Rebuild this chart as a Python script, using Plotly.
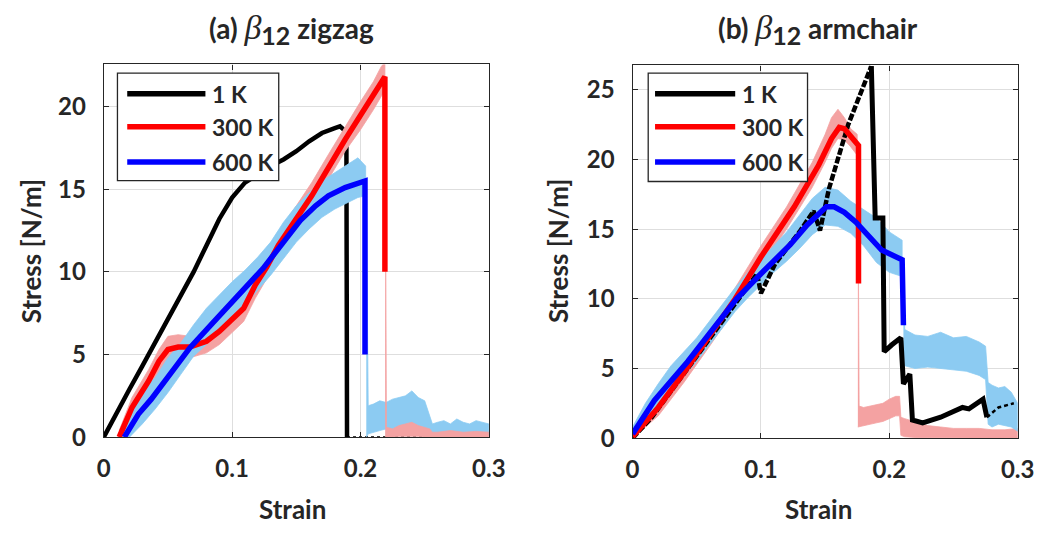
import plotly.graph_objects as go

W, H = 1064, 538

# ---------------- data: (a) beta12 zigzag ----------------
a_k1_strain = [0.0, 0.010, 0.020, 0.030, 0.040, 0.050, 0.060, 0.070, 0.080, 0.090, 0.100, 0.110, 0.120, 0.130,
               0.140, 0.150, 0.160, 0.170, 0.180, 0.184, 0.187, 0.189, 0.1895]
a_k1_stress = [0.0, 1.5, 2.9, 4.3, 5.7, 7.1, 8.5, 10.0, 11.6, 13.2, 14.5, 15.4, 15.9, 16.4,
               16.8, 17.3, 17.9, 18.4, 18.7, 18.8, 18.6, 18.5, 0.0]
a_k1_tail_strain = [0.1895, 0.30]
a_k1_tail_stress = [0.0, 0.0]

a_k300_strain = [0.012, 0.022, 0.035, 0.043, 0.050, 0.058, 0.067, 0.080, 0.090, 0.098, 0.109, 0.118, 0.127, 0.136, 0.162, 0.188, 0.219, 0.219]
a_k300_stress = [0.0, 1.8, 3.4, 4.6, 5.3, 5.45, 5.45, 5.8, 6.4, 7.0, 7.8, 9.2, 10.3, 11.6, 14.6, 18.0, 21.8, 10.0]

a_k600_strain = [0.016, 0.027, 0.037, 0.048, 0.057, 0.067, 0.086, 0.103, 0.124, 0.140, 0.153, 0.165, 0.175, 0.188, 0.2035, 0.2035]
a_k600_stress = [0.0, 1.4, 2.3, 3.4, 4.4, 5.4, 7.0, 8.4, 10.2, 11.8, 13.1, 14.0, 14.6, 15.1, 15.5, 5.0]

# raw (noisy) data envelopes, (a)
a_raw300_strain = [0.012, 0.022, 0.035, 0.043, 0.050, 0.058, 0.067, 0.080, 0.090, 0.098, 0.109, 0.118, 0.127, 0.136, 0.150, 0.162, 0.175, 0.188, 0.200, 0.210, 0.216, 0.219]
a_raw300_upper = [0.4, 2.4, 4.1, 5.3, 6.1, 6.2, 6.1, 6.6, 7.3, 7.8, 8.7, 10.0, 11.1, 12.4, 14.0, 15.4, 17.1, 18.8, 20.3, 21.5, 22.4, 22.7]
a_raw300_lower = [0.0, 1.2, 2.8, 3.9, 4.6, 4.8, 4.8, 5.1, 5.6, 6.2, 7.0, 8.4, 9.6, 10.9, 12.5, 13.9, 15.6, 17.3, 18.6, 19.8, 20.6, 21.0]
a_raw300_post_strain = [0.2192, 0.2202, 0.225, 0.230, 0.235, 0.240, 0.245, 0.250, 0.254, 0.256, 0.260, 0.270, 0.280, 0.290, 0.300]
a_raw300_post_upper = [21.0, 0.6, 0.5, 0.7, 0.8, 0.9, 0.7, 0.6, 0.5, 0.3, 0.3, 0.4, 0.3, 0.35, 0.3]
a_raw300_post_lower = [0.0, 0.0, 0.0, 0.05, 0.05, 0.05, 0.05, 0.0, 0.0, 0.0, 0.0, 0.0, 0.0, 0.0, 0.0]

a_raw600_strain = [0.013, 0.020, 0.030, 0.040, 0.050, 0.060, 0.070, 0.080, 0.090, 0.100, 0.110, 0.120, 0.130, 0.140, 0.150, 0.160, 0.170, 0.180, 0.190, 0.198, 0.204]
a_raw600_upper = [0.3, 1.6, 2.8, 3.6, 4.8, 5.7, 6.8, 7.8, 8.6, 9.4, 10.1, 10.9, 11.8, 13.0, 14.0, 14.8, 15.5, 16.0, 16.5, 16.9, 16.4]
a_raw600_lower = [0.0, 0.0, 0.8, 1.7, 2.7, 3.8, 4.9, 5.6, 6.4, 7.3, 8.0, 8.9, 9.8, 10.8, 11.8, 12.6, 13.3, 13.8, 14.2, 14.5, 14.6]
a_raw600_post_strain = [0.2045, 0.2060, 0.210, 0.215, 0.220, 0.225, 0.230, 0.235, 0.240, 0.245, 0.250, 0.254, 0.256, 0.260, 0.265, 0.270, 0.275, 0.280, 0.285, 0.290, 0.295, 0.300]
a_raw600_post_upper = [15.0, 1.9, 2.0, 2.2, 2.1, 2.3, 2.4, 2.5, 2.8, 2.4, 2.2, 1.2, 0.8, 0.9, 1.0, 0.8, 1.1, 0.9, 0.8, 1.0, 0.9, 0.8]
a_raw600_post_lower = [0.0, 0.2, 0.3, 0.4, 0.5, 0.5, 0.6, 0.6, 0.7, 0.6, 0.5, 0.3, 0.1, 0.1, 0.1, 0.1, 0.1, 0.1, 0.1, 0.1, 0.1, 0.1]

# ---------------- data: (b) beta12 armchair ----------------
b_k1_rise_strain = [0.0, 0.015, 0.043, 0.081, 0.097, 0.100, 0.111, 0.130, 0.141, 0.146, 0.153, 0.168, 0.186]
b_k1_rise_stress = [0.0, 1.5, 5.0, 9.7, 11.8, 10.4, 12.5, 14.8, 16.3, 14.9, 17.9, 22.5, 26.7]
b_k1_fail_strain = [0.186, 0.189, 0.195, 0.196, 0.202, 0.209, 0.211, 0.216, 0.218, 0.226, 0.240, 0.257, 0.262, 0.273, 0.276]
b_k1_fail_stress = [26.7, 15.8, 15.8, 6.2, 6.7, 7.2, 3.9, 4.6, 1.3, 1.1, 1.5, 2.2, 2.1, 2.8, 1.5]
b_k1_tail_strain = [0.276, 0.285, 0.297]
b_k1_tail_stress = [1.5, 2.2, 2.5]

b_k300_strain = [0.0, 0.020, 0.040, 0.060, 0.080, 0.090, 0.100, 0.126, 0.145, 0.155, 0.161, 0.165, 0.176, 0.176]
b_k300_stress = [0.1, 2.2, 4.7, 7.3, 10.0, 11.5, 13.0, 16.6, 19.6, 21.5, 22.3, 22.2, 21.0, 11.1]

b_k600_strain = [0.0, 0.017, 0.043, 0.068, 0.081, 0.100, 0.123, 0.136, 0.151, 0.157, 0.165, 0.174, 0.185, 0.194, 0.210, 0.211]
b_k600_stress = [0.3, 2.7, 5.5, 8.5, 10.0, 11.8, 13.9, 15.3, 16.6, 16.6, 16.2, 15.5, 14.4, 13.5, 12.8, 8.1]

b_raw300_strain = [0.0, 0.020, 0.040, 0.060, 0.080, 0.100, 0.120, 0.140, 0.150, 0.155, 0.160, 0.165, 0.170, 0.175]
b_raw300_upper = [0.6, 3.0, 5.5, 8.1, 10.8, 13.8, 16.6, 19.8, 21.8, 23.0, 23.6, 23.0, 22.2, 21.8]
b_raw300_lower = [0.0, 1.6, 4.0, 6.6, 9.3, 12.3, 15.0, 18.0, 19.8, 20.8, 21.5, 21.4, 20.9, 20.3]
b_raw300_post_strain = [0.1755, 0.1765, 0.180, 0.185, 0.190, 0.195, 0.200, 0.205, 0.208, 0.209, 0.212, 0.220, 0.230, 0.240, 0.250, 0.260, 0.270, 0.280, 0.290, 0.300]
b_raw300_post_upper = [20.5, 2.3, 2.2, 2.3, 2.4, 2.5, 2.8, 3.0, 3.0, 1.5, 1.4, 1.2, 0.9, 0.8, 0.7, 0.7, 0.7, 0.6, 0.6, 0.7]
b_raw300_post_lower = [0.8, 0.8, 0.9, 1.0, 1.1, 1.2, 1.4, 1.6, 1.6, 0.2, 0.1, 0.05, 0.05, 0.0, 0.0, 0.0, 0.0, 0.0, 0.0, 0.0]

b_raw600_strain = [0.0, 0.010, 0.020, 0.030, 0.040, 0.050, 0.060, 0.070, 0.080, 0.090, 0.100, 0.110, 0.120, 0.130, 0.140, 0.150, 0.160, 0.170, 0.180, 0.190, 0.200, 0.210]
b_raw600_upper = [0.8, 2.5, 3.9, 5.2, 6.2, 7.2, 8.4, 9.6, 10.8, 11.9, 12.8, 13.8, 14.8, 16.0, 17.2, 18.0, 17.8, 17.0, 16.4, 15.8, 14.8, 14.2]
b_raw600_lower = [0.0, 0.9, 2.3, 3.5, 4.5, 5.5, 6.7, 7.9, 9.1, 10.1, 11.0, 11.9, 12.7, 13.6, 14.6, 15.3, 15.2, 14.7, 13.8, 12.6, 11.9, 11.6]
b_raw600_post_strain = [0.2110, 0.2120, 0.220, 0.230, 0.240, 0.250, 0.260, 0.270, 0.275, 0.277, 0.280, 0.285, 0.290, 0.295, 0.300]
b_raw600_post_upper = [12.0, 7.8, 7.4, 7.3, 7.6, 7.2, 7.3, 6.9, 6.6, 4.0, 3.8, 3.6, 3.7, 3.3, 2.5]
b_raw600_post_lower = [7.0, 5.2, 5.0, 5.1, 5.0, 4.9, 4.8, 4.5, 4.2, 1.0, 0.8, 1.0, 0.9, 0.8, 0.5]

legend_labels = ["1 K", "300 K", "600 K"]
x_ticks = [0, 0.1, 0.2, 0.3]
x_ticktext = ["0", "0.1", "0.2", "0.3"]
a_y_ticks = [0, 5, 10, 15, 20]
b_y_ticks = [0, 5, 10, 15, 20, 25]

# ---------------- styling ----------------
BLACK = "#000000"
RED = "#ff0000"
BLUE = "#0000ff"
LRED = "#f4a2a2"
LBLUE = "#8ccbf2"
TXT = "#262626"
FONT = "Lato"

fig = go.Figure()


def band(xs, up, lo, color, xa, ya):
    fig.add_trace(go.Scatter(x=list(xs) + list(xs)[::-1], y=list(up) + list(lo)[::-1],
                             fill="toself", fillcolor=color, mode="lines",
                             line=dict(width=0.8, color=color), hoverinfo="skip",
                             showlegend=False, xaxis=xa, yaxis=ya))


def line(xs, ys, color, width, xa, ya, dash="solid"):
    fig.add_trace(go.Scatter(x=xs, y=ys, mode="lines",
                             line=dict(color=color, width=width, dash=dash),
                             showlegend=False, xaxis=xa, yaxis=ya))


# panel (a)
line(a_k1_strain, a_k1_stress, BLACK, 4.5, "x", "y")
line(a_k1_tail_strain, a_k1_tail_stress, BLACK, 2, "x", "y", dash="dot")
band(a_raw300_strain, a_raw300_upper, a_raw300_lower, LRED, "x", "y")
band(a_raw600_strain, a_raw600_upper, a_raw600_lower, LBLUE, "x", "y")
band(a_raw600_post_strain, a_raw600_post_upper, a_raw600_post_lower, LBLUE, "x", "y")
band(a_raw300_post_strain, a_raw300_post_upper, a_raw300_post_lower, LRED, "x", "y")
line(a_k300_strain, a_k300_stress, RED, 5.5, "x", "y")
line(a_k600_strain, a_k600_stress, BLUE, 5.5, "x", "y")

# panel (b)
band(b_raw300_strain, b_raw300_upper, b_raw300_lower, LRED, "x2", "y2")
band(b_raw300_post_strain, b_raw300_post_upper, b_raw300_post_lower, LRED, "x2", "y2")
band(b_raw600_strain, b_raw600_upper, b_raw600_lower, LBLUE, "x2", "y2")
band(b_raw600_post_strain, b_raw600_post_upper, b_raw600_post_lower, LBLUE, "x2", "y2")
line(b_k1_rise_strain, b_k1_rise_stress, BLACK, 4.5, "x2", "y2", dash="7px,2px")
line(b_k1_fail_strain, b_k1_fail_stress, BLACK, 5, "x2", "y2")
line(b_k1_tail_strain, b_k1_tail_stress, BLACK, 2.5, "x2", "y2", dash="4px,3px")
line(b_k300_strain, b_k300_stress, RED, 5.5, "x2", "y2")
line(b_k600_strain, b_k600_stress, BLUE, 5.5, "x2", "y2")


def px(x):
    return x / W


def py(y):
    return 1 - y / H


axis_common = dict(showgrid=True, gridcolor="#dedede", gridwidth=1, zeroline=False,
                   showline=True, linecolor=TXT, linewidth=1.3, mirror="ticks",
                   ticks="inside", ticklen=5, tickcolor=TXT,
                   tickfont=dict(family=FONT, size=24, color=TXT, weight="bold"))

fig.update_layout(
    width=W, height=H, autosize=False,
    margin=dict(l=0, r=0, t=0, b=0),
    paper_bgcolor="white", plot_bgcolor="white",
    showlegend=False,
    xaxis=dict(domain=[px(99), px(493)], range=[0, 0.3], tickvals=x_ticks, ticktext=x_ticktext,
               anchor="y", ticklabelstandoff=10, **axis_common),
    yaxis=dict(domain=[py(448), py(66)], range=[0, 22.55], tickvals=a_y_ticks,
               anchor="x", ticklabelstandoff=12, **axis_common),
    xaxis2=dict(domain=[px(640), px(1034)], range=[0, 0.3], tickvals=x_ticks, ticktext=x_ticktext,
                anchor="y2", ticklabelstandoff=10, **axis_common),
    yaxis2=dict(domain=[py(449), py(67)], range=[0, 26.75], tickvals=b_y_ticks,
                anchor="x2", ticklabelstandoff=12, **axis_common),
)

annots = []
tfont = dict(family=FONT, size=28, color=TXT, weight="bold")
beta = ("<span style=\"font-family:Liberation Serif;font-weight:normal;font-size:34px\"><i>β</i></span>"
        "<sub><span style=\"font-size:25px\">12</span></sub>")
annots.append(dict(x=px(291), y=py(30), xref="paper", yref="paper", showarrow=False,
                   text="(a) " + beta + " zigzag", font=tfont, xanchor="center", yanchor="middle"))
annots.append(dict(x=px(830), y=py(30), xref="paper", yref="paper", showarrow=False,
                   text="(b) " + beta + " armchair", font=tfont, xanchor="center", yanchor="middle"))
afont = dict(family=FONT, size=26, color=TXT, weight="bold")
for cx in (292, 830):
    annots.append(dict(x=px(cx), y=py(522), xref="paper", yref="paper", showarrow=False,
                       text="Strain", font=afont, xanchor="center", yanchor="middle"))
for cx in (24, 564):
    annots.append(dict(x=px(cx), y=py(257), xref="paper", yref="paper", showarrow=False,
                       text="Stress [N/m]", font=afont, textangle=-90,
                       xanchor="center", yanchor="middle"))

# legends (drawn as boxes with sample lines)
shapes = []
lfont = dict(family=FONT, size=23, color=TXT, weight="bold")
leg_colors = [BLACK, RED, BLUE]
for (bx0, bx1, by0, by1, lx0, lx1, tx) in [(113, 278, 75, 185, 123, 203, 208),
                                           (656, 819, 75, 186, 663, 745, 750)]:
    shapes.append(dict(type="rect", xref="paper", yref="paper", x0=px(bx0), x1=px(bx1),
                       y0=py(by1), y1=py(by0), line=dict(color=TXT, width=1.3), fillcolor="white",
                       layer="above"))
    for i, ly in enumerate([96, 130, 166]):
        shapes.append(dict(type="line", xref="paper", yref="paper", x0=px(lx0), x1=px(lx1),
                           y0=py(ly), y1=py(ly), line=dict(color=leg_colors[i], width=5.5),
                           layer="above"))
        annots.append(dict(x=px(tx), y=py(ly), xref="paper", yref="paper", showarrow=False,
                           text=legend_labels[i], font=lfont, xanchor="left", yanchor="middle"))

fig.update_layout(annotations=annots, shapes=shapes)
fig.write_html("out.html")
